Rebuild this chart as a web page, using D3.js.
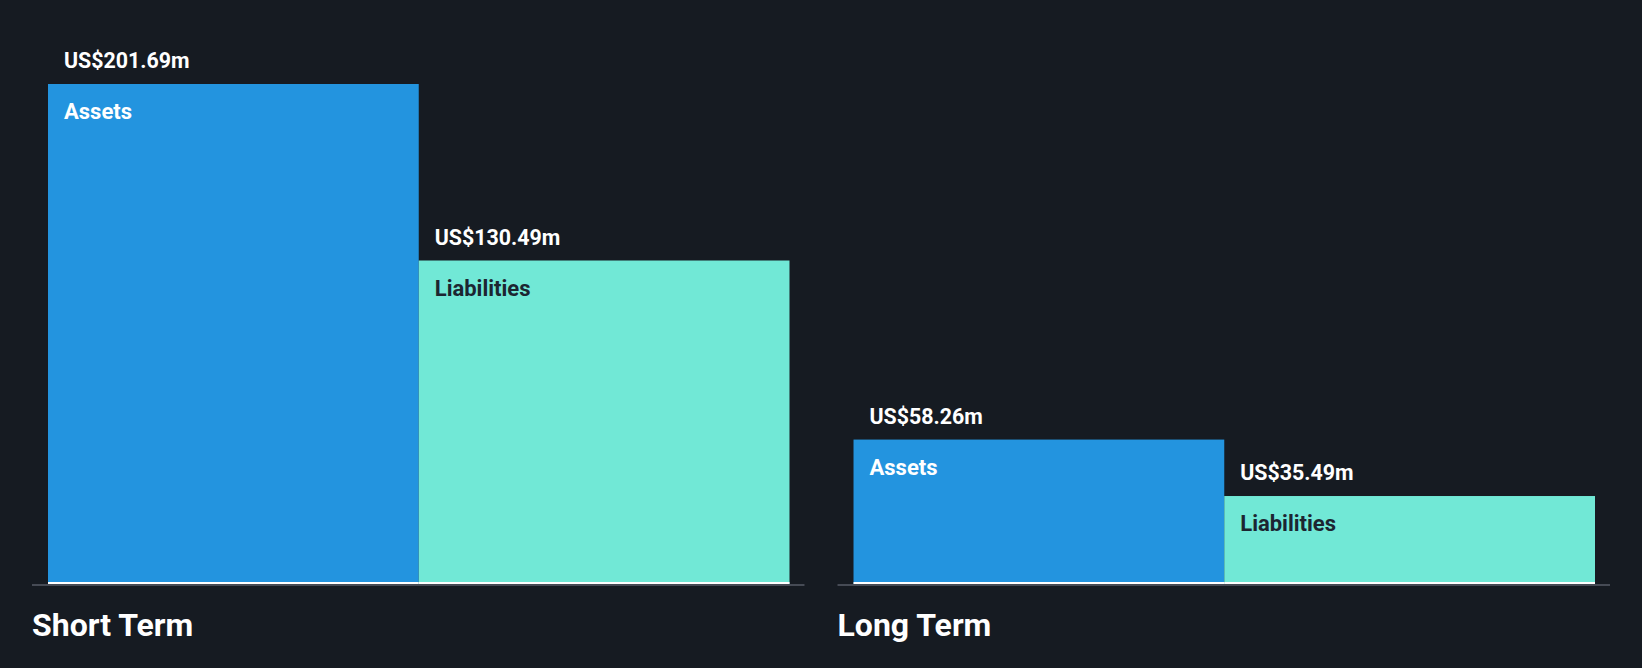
<!DOCTYPE html>
<html lang="en">
	<head>
		<meta charset="utf-8">
		<title>Short and long term assets vs liabilities</title>
		<script src="https://d3js.org/d3.v7.min.js"></script>
		<style type="text/css">
			html, body { margin: 0; padding: 0; background: #161b22; }
			svg { display: block; font-family: Roboto, "Noto Sans", sans-serif; }
		</style>
	</head>
	<body>
<div id="chart"></div>
		<script type="text/javascript">
// data
var terms = ["Short Term", "Long Term"];
var kinds = ["Assets", "Liabilities"];
var assets = [201.69, 58.26];
var liabilities = [130.49, 35.49];
var valueLabels = [["US$201.69m", "US$130.49m"], ["US$58.26m", "US$35.49m"]];

//Width and height
var w = 1642;
var h = 668;
var baseY = 584;

var colors = {Assets: "#2394df", Liabilities: "#71e8d6"};
var nameColors = {Assets: "#ffffff", Liabilities: "#1c2531"};

var svg = d3.select("div#chart")
			.append("svg")
			.attr("width", w)
			.attr("height", h);

svg.append("rect")
	.attr("width", w)
	.attr("height", h)
	.attr("fill", "#161b22");

// panel scale
var xPanel = d3.scaleBand()
			.domain(terms)
			.range([32, 1610])
			.paddingInner(0.041)
			.paddingOuter(0);

// bar scale inside each panel
var xBar = d3.scaleBand()
			.domain(kinds)
			.range([16, xPanel.bandwidth() - 15])
			.padding(0);

var yScale = d3.scaleLinear()
			.domain([0, d3.max(assets.concat(liabilities))])
			.range([baseY, 84]);

var rows = terms.map(function(t, i) {
	return {term: t, bars: [
		{kind: "Assets", value: assets[i], label: valueLabels[i][0]},
		{kind: "Liabilities", value: liabilities[i], label: valueLabels[i][1]}
	]};
});

var panels = svg.selectAll("g.panel")
	.data(rows)
	.enter()
	.append("g")
	.attr("class", "panel")
	.attr("transform", d => "translate(" + xPanel(d.term) + ",0)");

// axis line
panels.append("rect")
	.attr("x", 0)
	.attr("y", baseY)
	.attr("width", xPanel.bandwidth())
	.attr("height", 2)
	.attr("fill", "#464b55");

var bars = panels.selectAll("g.bar")
	.data(d => d.bars)
	.enter()
	.append("g")
	.attr("class", "bar");

bars.append("rect")
	.attr("x", d => xBar(d.kind))
	.attr("y", d => yScale(d.value))
	.attr("width", xBar.bandwidth())
	.attr("height", d => baseY - yScale(d.value))
	.attr("fill", d => colors[d.kind]);

// white base line under the bars
bars.append("rect")
	.attr("x", d => xBar(d.kind))
	.attr("y", baseY - 2)
	.attr("width", xBar.bandwidth())
	.attr("height", 2)
	.attr("fill", "#ffffff");

bars.append("text")
	.attr("x", d => xBar(d.kind) + 16)
	.attr("y", d => yScale(d.value) - 16)
	.attr("fill", "#ffffff")
	.attr("font-size", 21.4)
	.attr("font-weight", 700)
	.text(d => d.label);

bars.append("text")
	.attr("x", d => xBar(d.kind) + 16)
	.attr("y", d => yScale(d.value) + 35)
	.attr("fill", d => nameColors[d.kind])
	.attr("font-size", 22)
	.attr("font-weight", 700)
	.text(d => d.kind);

// term labels
panels.append("text")
	.attr("x", 0)
	.attr("y", 636)
	.attr("fill", "#ffffff")
	.attr("font-size", 32)
	.attr("font-weight", 700)
	.text(d => d.term);

		</script>
	</body>
</html>
